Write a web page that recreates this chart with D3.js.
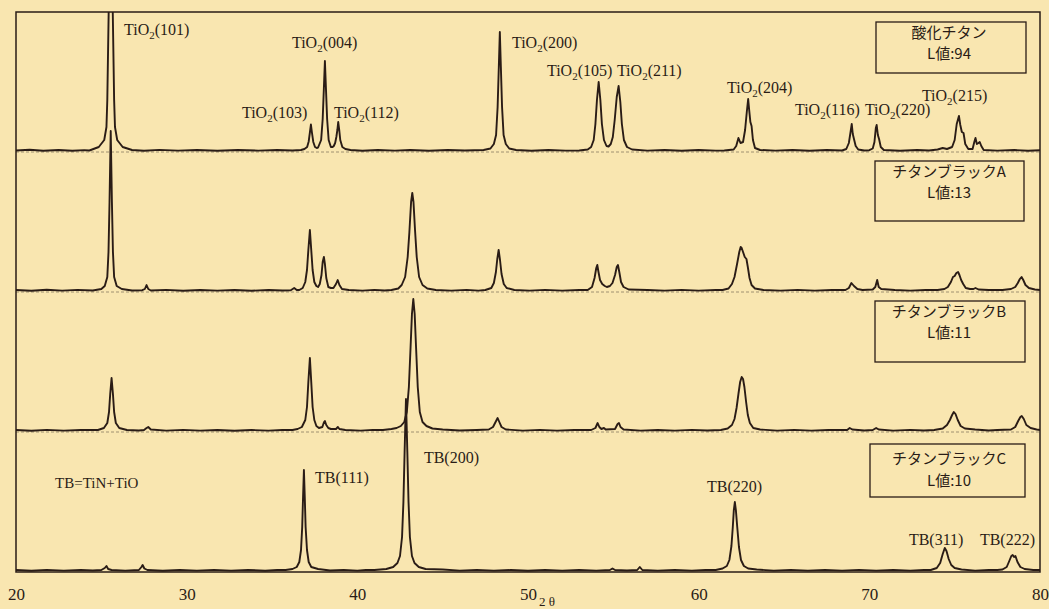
<!DOCTYPE html>
<html lang="ja">
<head>
<meta charset="UTF-8">
<title>XRD</title>
<script src="https://cdnjs.cloudflare.com/ajax/libs/d3/7.8.5/d3.min.js"></script>
<style>
  body { margin: 0; background: #f9e6b0; }
  svg { display: block; }
</style>
</head>
<body>
<script>
// ---- data (2θ, intensity) ----
const xTicks = [20, 30, 40, 50, 60, 70, 80];
const sampleNames = ['酸化チタン', 'チタンブラックA', 'チタンブラックB', 'チタンブラックC'];
const lValues = [94, 13, 11, 10];

const tio2Trace = [
  [20,1.5],[20.8,2.2],[21.6,1.2],[22.5,2],[23.3,1.3],[24.0,1.9],
  [24.3,1.5],[24.85,5],[25.17,12],[25.3,25],[25.35,52],[25.43,140],[25.55,320],[25.67,140],[25.75,52],[25.8,25],[25.93,12],[26.25,5],[26.8,2],
  [27.5,1.3],[28.4,2.1],[29.5,1.4],[30.6,2],[31.8,1.3],[33,2],[34.2,1.4],[35.3,2],[36.2,1.5],[36.7,2],
  [36.9,3],[37.06,5],[37.15,10.5],[37.22,19.5],[37.28,27.5],[37.34,19.5],[37.42,10],[37.52,5],[37.62,4],
  [37.7,4.5],[37.88,12],[37.97,33],[38.04,64],[38.1,91],[38.16,64],[38.23,33],[38.32,12],[38.45,5],[38.55,5],
  [38.62,6],[38.7,9],[38.77,15],[38.83,22],[38.88,30],[38.94,22],[39.0,12],[39.12,5],[39.3,3],[39.6,2],
  [40.3,1.3],[41.2,2],[42.2,1.4],[43.1,2],[44.2,1.3],[45.3,2],[46.3,1.5],
  [47.4,2],[47.8,3.5],[48.0,8],[48.13,17],[48.22,45],[48.29,85],[48.35,120],[48.41,85],[48.48,45],[48.57,17],[48.7,8],[48.9,3.5],[49.3,2],
  [50.2,1.3],[51.2,2],[52.2,1.4],[53,1.5],
  [53.5,2.5],[53.7,5],[53.85,12],[53.95,28],[54.04,52],[54.14,70],[54.24,52],[54.33,28],[54.45,12],[54.6,6],[54.72,5.5],
  [54.85,8],[54.97,15],[55.08,32],[55.2,55],[55.31,66],[55.41,50],[55.5,28],[55.62,12],[55.8,5],[56.1,2.5],
  [57,1.4],[58,2],[59,1.3],[60,2],[61,1.4],
  [61.5,1.5],[62.05,2.5],[62.2,6],[62.33,14],[62.45,9],[62.6,10],[62.72,22],[62.82,40],[62.9,53],[62.96,42],[63.03,30],[63.1,26],[63.18,12],[63.3,4],[63.6,2],
  [64.5,1.4],[65.5,2],[66.5,1.3],[67.5,2],
  [68.4,1.5],[68.65,3],[68.8,9],[68.9,20],[68.97,28],[69.03,18],[69.1,13],[69.2,6],[69.35,2.5],[69.7,1.5],
  [70.0,1.8],[70.2,3.5],[70.3,10],[70.38,24],[70.43,27],[70.5,17],[70.57,13],[70.67,5],[70.85,2],
  [71.8,1.3],[72.8,2],
  [73.5,1.5],[74.0,2.5],[74.3,4],[74.55,3],[74.85,5],[75.0,12],[75.12,28],[75.25,36],[75.33,27],[75.42,20],[75.52,19],[75.62,8],[75.8,3],
  [76.05,3],[76.15,10],[76.22,14],[76.3,8],[76.4,9],[76.47,10],[76.56,6],[76.7,2],
  [77.5,1.4],[78.5,2],[79.3,1.3],[80,1.8]
];

const tbATrace = [
  [20,2],[20.9,1.3],[21.8,2.2],[22.7,1.4],[23.6,2.1],[24.5,1.5],
  [25.0,3],[25.2,6],[25.35,15],[25.42,40],[25.48,90],[25.55,161],[25.62,90],[25.68,40],[25.75,15],[25.9,6],[26.2,3],[26.8,1.5],
  [27.4,1.8],[27.55,3],[27.65,7],[27.75,3],[27.9,1.5],
  [28.8,2.1],[29.8,1.3],[30.8,2],[31.8,1.4],[32.8,2],[33.8,1.3],[34.8,2],[35.6,1.5],
  [36.1,1.8],[36.3,4],[36.45,2],
  [36.6,2],[36.8,4],[36.95,10],[37.05,22],[37.13,42],[37.22,62],[37.3,42],[37.38,22],[37.48,10],[37.6,6],[37.7,5],
  [37.8,8],[37.9,17],[37.97,30],[38.04,35],[38.1,28],[38.18,14],[38.3,5],[38.45,4],
  [38.6,4],[38.75,8],[38.85,12],[38.95,7],[39.1,3],[39.5,2],
  [40.3,1.4],[41.0,2.1],[41.6,1.5],
  [42.0,2],[42.4,3.5],[42.6,7],[42.8,15],[42.95,35],[43.05,60],[43.15,90],[43.22,99],[43.29,90],[43.38,62],[43.48,35],[43.62,15],[43.82,7],[44.1,3.5],[44.6,2],
  [45.5,1.4],[46.4,2.1],[47.1,1.4],
  [47.5,2],[47.85,4],[48.0,9],[48.12,20],[48.2,33],[48.28,42],[48.36,32],[48.45,18],[48.58,8],[48.75,4],[49.2,2],
  [50.1,1.4],[51,2.1],[52,1.4],[53,2],
  [53.5,2],[53.75,5],[53.9,14],[54.0,24],[54.06,27],[54.13,20],[54.22,12],[54.35,8],[54.5,6],[54.62,5],
  [54.8,6],[54.95,9],[55.1,17],[55.2,25],[55.27,27],[55.35,20],[55.45,10],[55.6,5],[55.9,2.5],
  [57,2],[58,1.4],[59,2.1],[60,1.4],[61,2],
  [61.4,2],[61.75,3.5],[61.95,8],[62.1,15],[62.25,28],[62.38,40],[62.46,45],[62.52,44],[62.6,40],[62.7,35],[62.8,33],[62.88,25],[62.98,14],[63.1,7],[63.3,3.5],[63.8,2],
  [64.8,1.4],[65.8,2.1],[66.8,1.4],[67.8,2],
  [68.6,2],[68.8,4],[68.95,9],[69.1,6],[69.3,3],[69.6,2],
  [70.2,2.5],[70.35,5],[70.46,12],[70.55,5],[70.7,3],[71.5,2],
  [72.4,1.4],[73.3,2],
  [74.0,2],[74.4,3],[74.6,5],[74.78,10],[74.9,15],[75.0,16],[75.1,19],[75.2,20],[75.28,17],[75.38,12],[75.5,8],[75.65,4],[75.9,3],
  [76.1,3],[76.22,4],[76.4,2.5],[77,2],
  [77.8,2],[78.3,3],[78.55,5],[78.7,9],[78.82,13],[78.92,15],[79.02,12],[79.15,7],[79.35,4],[79.7,2.5],[80,2]
];

const tbBTrace = [
  [20,2],[20.9,1.3],[21.8,2.1],[22.8,1.4],[23.8,2],[24.8,2],
  [25.15,4],[25.35,9],[25.45,20],[25.52,38],[25.6,54],[25.68,38],[25.75,20],[25.85,9],[26.05,4],[26.5,2],
  [27.2,1.5],[27.5,2],[27.65,4],[27.75,5],[27.9,2.5],
  [28.8,1.4],[29.8,2.1],[30.8,1.4],[31.8,2],[32.8,1.3],[33.8,2],[34.8,1.4],[35.6,2],
  [36.2,2],[36.5,3],[36.75,5],[36.95,12],[37.05,25],[37.13,50],[37.22,74],[37.3,50],[37.38,25],[37.48,12],[37.6,6],[37.75,4],
  [37.95,5],[38.05,10],[38.1,11],[38.18,7],[38.3,4],[38.45,3],
  [38.75,3],[38.86,5],[38.95,3],[39.3,2],
  [40.2,1.4],[40.9,2.1],
  [41.5,2],[42.0,3],[42.3,4],[42.55,6],[42.75,10],[42.9,20],[43.02,45],[43.12,85],[43.2,118],[43.28,133],[43.36,118],[43.44,85],[43.54,45],[43.66,20],[43.82,10],[44.05,6],[44.4,3.5],[45,2.5],
  [46,1.5],[47,2],
  [47.7,2.5],[47.95,5],[48.1,10],[48.22,14],[48.32,10],[48.45,5],[48.7,2.5],
  [49.7,1.4],[50.7,2.1],[51.7,1.4],[52.7,2],
  [53.7,2],[53.95,4],[54.08,9],[54.18,5],[54.3,3],[54.45,4],[54.55,2.5],
  [55.1,3],[55.25,8],[55.33,9],[55.42,5],[55.6,2.5],
  [56.6,1.4],[57.6,2],[58.6,1.4],[59.6,2.1],[60.5,1.5],
  [61.3,2],[61.7,3.5],[61.95,7],[62.1,13],[62.22,24],[62.33,38],[62.43,50],[62.52,55],[62.6,53],[62.68,45],[62.78,30],[62.88,17],[63.0,9],[63.2,4],[63.6,2.5],
  [64.6,1.4],[65.6,2.1],[66.6,1.4],[67.6,2],
  [68.7,2],[68.85,4],[69.0,2.5],
  [69.7,1.5],[70.2,2],[70.4,4],[70.55,2.5],
  [71.4,1.4],[72.4,2.1],[73.2,1.5],
  [73.8,2],[74.3,3.5],[74.55,7],[74.72,12],[74.85,17],[74.95,20],[75.05,18],[75.18,12],[75.35,6],[75.6,3.5],[76.2,2.5],[77,1.5],[77.5,2],
  [78.3,2.5],[78.55,5],[78.72,11],[78.85,15],[78.93,16],[79.05,13],[79.2,7],[79.45,4],[79.8,2.5],[80,2]
];

const tbCTrace = [
  [20,2],[20.9,1.3],[21.8,2.1],[22.8,1.4],[23.8,2],[24.5,1.5],
  [25.0,2],[25.2,4],[25.3,6],[25.4,3],[25.6,2],
  [26.4,1.4],[27.2,2],[27.35,5],[27.42,7],[27.52,3.5],[27.7,2],
  [28.6,1.3],[29.6,2],[30.6,1.4],[31.6,2.1],[32.6,1.4],[33.6,2],[34.6,1.3],[35.3,2],
  [35.8,2],[36.2,3],[36.45,5],[36.6,10],[36.7,22],[36.77,45],[36.82,75],[36.87,102],[36.92,75],[36.97,45],[37.05,22],[37.15,10],[37.3,5],[37.5,4],[37.7,3],
  [38.4,1.5],[39.2,2.1],[40.0,1.4],[40.5,2],
  [41.0,2],[41.7,3],[42.1,5],[42.35,9],[42.5,16],[42.62,35],[42.7,70],[42.77,120],[42.85,173],[42.93,120],[43.0,70],[43.08,35],[43.2,16],[43.35,9],[43.6,5],[44.0,3],[45,2.5],
  [46,1.4],[47,2.1],[48,1.4],[49,2],[50,1.3],[51,2],[52,1.4],[53,2],[54,1.4],
  [54.8,2],[54.95,3.5],[55.1,2],[55.8,1.5],[56.4,2],[56.55,5],[56.7,2],
  [57.6,1.4],[58.6,2.1],[59.6,1.4],[60.4,2],
  [61.0,2],[61.4,3.5],[61.65,6],[61.8,12],[61.92,26],[62.0,45],[62.06,62],[62.12,70],[62.18,62],[62.26,45],[62.36,25],[62.48,12],[62.65,6],[62.9,3.5],[63.4,2.5],
  [64.4,1.4],[65.4,2.1],[66.4,1.4],[67.4,2],[68.4,1.4],[69.4,2.1],[70.4,1.4],[71.4,2],[72.4,1.4],[73.2,2],
  [73.6,2],[73.95,4],[74.15,9],[74.3,18],[74.42,24],[74.52,21],[74.65,13],[74.8,7],[75.0,4],[75.4,2.5],
  [76.2,1.4],[77.0,2],[77.5,2],
  [77.8,2.5],[78.05,5],[78.2,11],[78.32,16],[78.4,17],[78.48,15],[78.56,16],[78.68,10],[78.85,5],[79.1,3],[79.6,2],[80,2]
];

const traces = [tio2Trace, tbATrace, tbBTrace, tbCTrace];

// peak annotations: [text, 2θ, intensity] in panel data units
const tio2Labels = [
  ['(101)', 26.33, 117], ['(004)', 36.17, 104], ['(103)', 33.24, 34], ['(112)', 38.63, 34],
  ['(200)', 49.06, 104], ['(105)', 51.11, 76], ['(211)', 55.21, 76], ['(204)', 61.66, 59],
  ['(116)', 65.64, 37], ['(220)', 69.74, 37], ['(215)', 73.08, 51]
];
const tbLabels = [
  ['TB=TiN+TiO', 22.29, 84], ['TB(111)', 37.52, 89], ['TB(200)', 43.9, 109],
  ['TB(220)', 60.49, 80], ['TB(311)', 72.32, 27], ['TB(222)', 76.48, 27]
];

// ---- layout ----
const w = 1049;
const h = 609;
const plotLeft = 16, plotRight = 1040, plotTop = 12, plotBottom = 572;
const panelH = (plotBottom - plotTop) / 4;
const ink = '#2a1c16';

const x = d3.scaleLinear().domain([20, 80]).range([plotLeft, plotRight]);
const yScales = traces.map((d, i) => {
  const base = plotTop + (i + 1) * panelH;
  return d3.scaleLinear().domain([0, panelH]).range([base, base - panelH]);
});

const svg = d3.select('body')
  .append('svg')
  .attr('width', w)
  .attr('height', h);

svg.append('defs').append('clipPath').attr('id', 'plot-clip')
  .append('rect')
  .attr('x', plotLeft).attr('y', plotTop)
  .attr('width', plotRight - plotLeft).attr('height', plotBottom - plotTop);

// zero lines between panels
svg.selectAll('line.zero')
  .data(yScales.slice(0, 3))
  .enter()
  .append('line')
  .attr('class', 'zero')
  .attr('x1', plotLeft).attr('x2', plotRight)
  .attr('y1', d => d(0)).attr('y2', d => d(0))
  .attr('stroke', '#8c7b62')
  .attr('stroke-width', 0.8)
  .attr('stroke-dasharray', '3,2');

// traces
const traceG = svg.append('g').attr('clip-path', 'url(#plot-clip)');
traces.forEach((data, i) => {
  const line = d3.line()
    .x(d => x(d[0]))
    .y(d => yScales[i](d[1]));
  traceG.append('path')
    .datum(data)
    .attr('d', line)
    .attr('fill', 'none')
    .attr('stroke', ink)
    .attr('stroke-width', 1.9)
    .attr('stroke-linejoin', 'round');
});

// frame
svg.append('rect')
  .attr('x', plotLeft).attr('y', plotTop)
  .attr('width', plotRight - plotLeft).attr('height', plotBottom - plotTop)
  .attr('fill', 'none')
  .attr('stroke', ink)
  .attr('stroke-width', 1.5);

// sample boxes
const boxes = [
  { x: 876, y: 22, w: 150, h: 51, t1: 16, t2: 37 },
  { x: 875, y: 161, w: 149, h: 60, t1: 16, t2: 37 },
  { x: 875, y: 301, w: 150, h: 61, t1: 16, t2: 37 },
  { x: 870, y: 444, w: 155, h: 53, t1: 20, t2: 42 }
];
boxes.forEach((b, i) => {
  svg.append('rect')
    .attr('x', b.x).attr('y', b.y)
    .attr('width', b.w).attr('height', b.h)
    .attr('fill', 'none')
    .attr('stroke', ink)
    .attr('stroke-width', 1.3);
  const tx = 949;
  svg.append('text')
    .attr('x', tx).attr('y', b.y + b.t1)
    .attr('text-anchor', 'middle')
    .style('font-family', '"Noto Sans CJK JP", sans-serif')
    .style('font-size', '15px')
    .attr('fill', ink)
    .text(sampleNames[i]);
  svg.append('text')
    .attr('x', tx).attr('y', b.y + b.t2)
    .attr('text-anchor', 'middle')
    .style('font-family', '"Noto Sans CJK JP", sans-serif')
    .style('font-size', '15px')
    .attr('fill', ink)
    .text('L値:' + lValues[i]);
});

// peak labels
const serif = '"Liberation Serif", "DejaVu Serif", serif';
tio2Labels.forEach(d => {
  const t = svg.append('text')
    .attr('x', x(d[1])).attr('y', yScales[0](d[2]))
    .style('font-family', serif)
    .style('font-size', '16px')
    .attr('fill', ink);
  t.append('tspan').text('TiO');
  t.append('tspan').attr('dy', 4).style('font-size', '11px').text('2');
  t.append('tspan').attr('dy', -4).text(d[0]);
});
tbLabels.forEach((d, i) => {
  svg.append('text')
    .attr('x', x(d[1])).attr('y', yScales[3](d[2]))
    .style('font-family', serif)
    .style('font-size', i === 0 ? '15px' : '16px')
    .attr('fill', ink)
    .text(d[0]);
});

// x axis
const xAxis = d3.axisBottom(x)
  .tickValues(xTicks)
  .tickSize(0)
  .tickPadding(16)
  .tickFormat(d3.format('d'));

const axisG = svg.append('g')
  .attr('id', 'x-axis')
  .attr('transform', `translate(0, ${plotBottom})`)
  .call(xAxis);
axisG.select('.domain').remove();
axisG.selectAll('text')
  .style('font-family', serif)
  .style('font-size', '17px')
  .attr('fill', ink);

svg.append('text')
  .attr('x', x(50) + 11).attr('y', 606)
  .style('font-family', serif)
  .style('font-size', '13px')
  .attr('fill', ink)
  .text('2 θ');
</script>
</body>
</html>
